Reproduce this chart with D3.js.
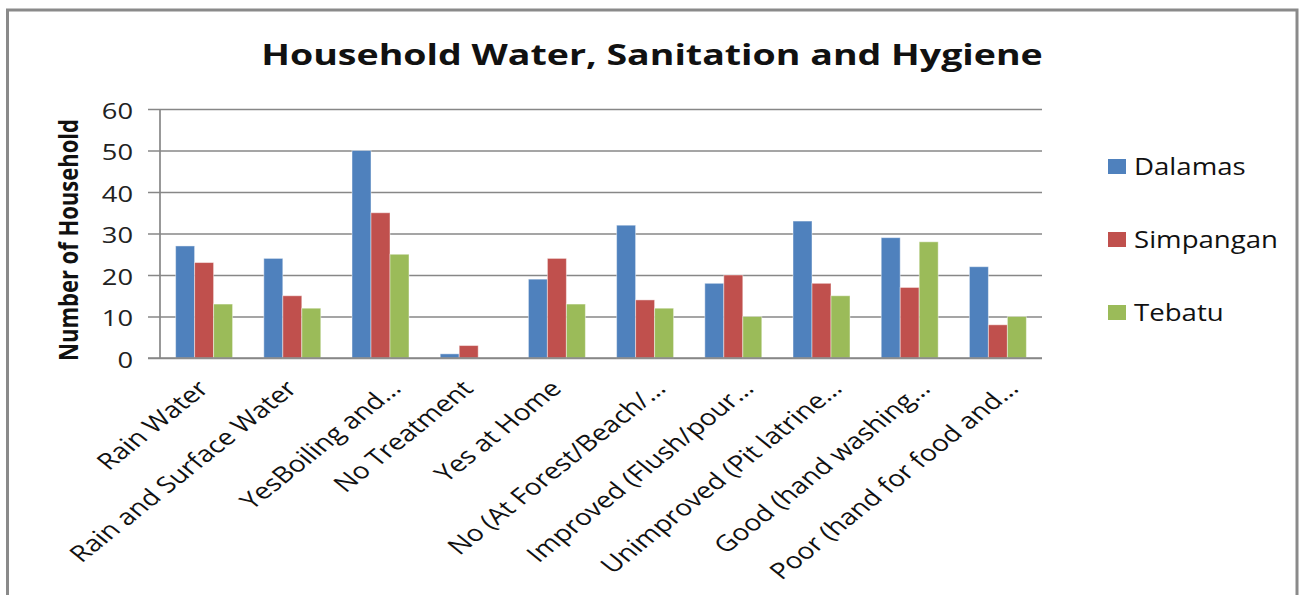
<!DOCTYPE html>
<html>
<head>
<meta charset="utf-8">
<script src="https://cdn.jsdelivr.net/npm/d3@7"></script>
<style>
  html, body { margin: 0; padding: 0; background: #fff; }
  svg { display: block; }
  text { font-family: "Open Sans", "Noto Sans", sans-serif; fill: #111; }
</style>
</head>
<body>
<svg id="chart" width="1300" height="595"></svg>
<script>
const title = "Household Water, Sanitation and Hygiene";
const yAxisTitle = "Number of Household";
const categories = [
  "Rain Water",
  "Rain and Surface Water",
  "YesBoiling and…",
  "No Treatment",
  "Yes at Home",
  "No (At Forest/Beach/…",
  "Improved (Flush/pour…",
  "Unimproved (Pit latrine…",
  "Good (hand washing…",
  "Poor (hand for food and…"
];
const seriesNames = ["Dalamas", "Simpangan", "Tebatu"];
const dalamas   = [27, 24, 50, 1, 19, 32, 18, 33, 29, 22];
const simpangan = [23, 15, 35, 3, 24, 14, 20, 18, 17, 8];
const tebatu    = [13, 12, 25, 0, 13, 12, 10, 15, 28, 10];
const yTicks = [0, 10, 20, 30, 40, 50, 60];
const colors = ["#4F81BD", "#C0504D", "#9BBB59"];

const seriesValues = [dalamas, simpangan, tebatu];
const rows = categories.map((c, i) => ({
  cat: c,
  vals: seriesNames.map((s, j) => ({ s, v: seriesValues[j][i] }))
}));

const svg = d3.select("#chart");
const K = 1.25; // horizontal stretch of the reference image's text

// outer frame
svg.append("rect")
  .attr("x", 7.5).attr("y", 10).attr("width", 1289.5).attr("height", 620)
  .attr("fill", "#fff").attr("stroke", "#8a8a8a").attr("stroke-width", 3);

const plot = { left: 160, right: 1042, top: 109, bottom: 358 };

const y = d3.scaleLinear().domain([0, 60]).range([plot.bottom, plot.top]);
const x0 = d3.scaleBand().domain(categories)
  .range([plot.left, plot.right]).paddingInner(0.354).paddingOuter(0.177);
const x1 = d3.scaleBand().domain(seriesNames).range([0, x0.bandwidth()]);
const color = d3.scaleOrdinal().domain(seriesNames).range(colors);

// gridlines + left ticks
const yAxis = d3.axisLeft(y).tickValues(yTicks).tickSize(-(plot.right - plot.left)).tickFormat("");
const gy = svg.append("g").attr("transform", `translate(${plot.left},0)`).call(yAxis);
gy.select(".domain").remove();
gy.selectAll(".tick line").attr("stroke", "#878787").attr("stroke-width", 1.7).attr("x1", -12);

// tick labels
svg.append("g").selectAll("text").data(yTicks).join("text")
  .attr("transform", d => `translate(133,${y(d) + 9.5}) scale(1.3,1)`)
  .attr("text-anchor", "end")
  .style("font-size", "21px")
  .style("fill", "#222")
  .text(d => d);

// bars
svg.append("g").selectAll("g").data(rows).join("g")
  .attr("transform", d => `translate(${x0(d.cat)},0)`)
  .selectAll("rect").data(d => d.vals).join("rect")
  .attr("x", d => x1(d.s))
  .attr("y", d => y(d.v))
  .attr("width", x1.bandwidth())
  .attr("height", d => y(0) - y(d.v))
  .attr("fill", d => color(d.s))
  .attr("stroke", "#ffffff").attr("stroke-opacity", 0.45).attr("stroke-width", 1);

// axis lines
svg.append("line").attr("x1", plot.left).attr("x2", plot.left)
  .attr("y1", plot.top).attr("y2", plot.bottom)
  .attr("stroke", "#878787").attr("stroke-width", 1.7);
svg.append("line").attr("x1", plot.left - 12).attr("x2", plot.right)
  .attr("y1", plot.bottom).attr("y2", plot.bottom)
  .attr("stroke", "#878787").attr("stroke-width", 1.7);

// x labels (truncated labels sit further right, as in the reference)
svg.append("g").selectAll("text").data(categories).join("text")
  .attr("transform", d => {
    const off = d.endsWith("…") ? 22 : 6;
    return `translate(${x0(d) + x0.bandwidth() / 2 + off},390) scale(${K},1) rotate(-45)`;
  })
  .attr("text-anchor", "end")
  .style("font-size", "22.5px")
  .text(d => d);

// y axis title
svg.append("text")
  .attr("transform", `translate(78,240) scale(${K},1) rotate(-90)`)
  .attr("text-anchor", "middle")
  .style("font-size", "22px").style("font-weight", "bold")
  .text(yAxisTitle);

// title (fit to reference width)
const t = svg.append("text")
  .attr("text-anchor", "middle")
  .style("font-size", "29px").style("font-weight", "bold")
  .text(title);
const tw = t.node().getComputedTextLength();
const tk = 782 / tw;
t.attr("transform", `translate(652,65) scale(${tk},1)`);

// legend
const legend = svg.append("g").selectAll("g").data(seriesNames).join("g")
  .attr("transform", (d, i) => `translate(1108,${175 + i * 73})`);
legend.append("rect")
  .attr("x", 0).attr("y", -16).attr("width", 18).attr("height", 15)
  .attr("fill", d => color(d));
legend.append("text")
  .attr("transform", "translate(26,0) scale(1.2,1)")
  .style("font-size", "23px")
  .text(d => d);
</script>
</body>
</html>
